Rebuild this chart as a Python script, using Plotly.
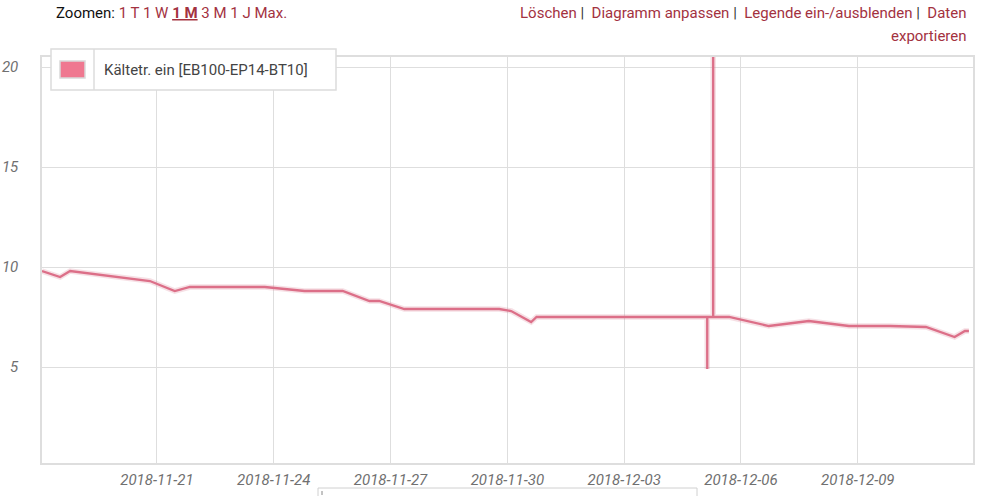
import plotly.graph_objects as go

# ---- data ----
series_name = "Kältetr. ein [EB100-EP14-BT10]"
times = [
    "2018-11-18 01:10", "2018-11-18 12:20", "2018-11-18 18:30", "2018-11-20 19:40",
    "2018-11-21 11:00", "2018-11-21 20:20", "2018-11-23 18:30", "2018-11-24 19:00",
    "2018-11-25 18:30", "2018-11-26 11:00", "2018-11-26 17:00", "2018-11-27 08:30",
    "2018-11-29 19:00", "2018-11-30 02:20", "2018-11-30 14:40", "2018-11-30 18:00",
    "2018-12-05 03:10", "2018-12-05 03:12", "2018-12-05 03:14", "2018-12-05 06:50",
    "2018-12-05 06:52", "2018-12-05 06:54", "2018-12-05 16:40", "2018-12-06 17:10",
    "2018-12-07 17:50", "2018-12-08 18:30", "2018-12-09 20:00", "2018-12-10 18:00",
    "2018-12-11 11:40", "2018-12-11 18:00", "2018-12-11 20:30",
]
values = [
    9.8, 9.5, 9.8, 9.3,
    8.8, 9.0, 9.0, 8.8,
    8.8, 8.3, 8.3, 7.9,
    7.9, 7.8, 7.25, 7.5,
    7.5, 4.9, 7.5, 7.5,
    23.0, 7.5, 7.5, 7.05,
    7.3, 7.05, 7.05, 7.0,
    6.5, 6.8, 6.8,
]
x_range = ["2018-11-18 01:10", "2018-12-11 23:00"]
y_range = [0.2, 20.5]
y_ticks = [5, 10, 15, 20]
x_tick0 = "2018-11-21"

zoom_label = "Zoomen:"
zoom_opts = ["1 T", "1 W", "1 M", "3 M", "1 J", "Max."]
menu_items = ["Löschen", "Diagramm anpassen", "Legende ein-/ausblenden", "Daten exportieren"]

# ---- layout (screen pixels) ----
W, H = 994, 496
L, R, T, B = 42, 973, 57, 463          # plot area in screen pixels
def px(x):
    return (x - L) / (R - L)
def py(y):
    return (B - y) / (B - T)

link = "#a3323f"
grid = "#dedede"

fig = go.Figure()
fig.add_trace(go.Scatter(x=times, y=values, mode="lines",
                         line=dict(color="rgba(216,112,138,0.22)", width=5.5),
                         hoverinfo="skip", showlegend=False))
fig.add_trace(go.Scatter(x=times, y=values, mode="lines", name=series_name,
                         line=dict(color="#dc6f88", width=2.3), showlegend=False))

shapes = []
# legend box
shapes.append(dict(type="rect", xref="paper", yref="paper", x0=px(51), x1=px(336), y0=py(90), y1=py(49),
                   fillcolor="white", line=dict(color="#dcdcdc", width=1.5), layer="above"))
shapes.append(dict(type="line", xref="paper", yref="paper", x0=px(94), x1=px(94), y0=py(90), y1=py(49),
                   line=dict(color="#dcdcdc", width=1.5), layer="above"))
shapes.append(dict(type="rect", xref="paper", yref="paper", x0=px(60), x1=px(85), y0=py(78), y1=py(61),
                   fillcolor="#ef7890", line=dict(color="#d9d9d9", width=1.5), layer="above"))
# partial box at bottom
shapes.append(dict(type="rect", xref="paper", yref="paper", x0=px(318), x1=px(697), y0=py(505), y1=py(488),
                   fillcolor="white", line=dict(color="#d0d0d0", width=1), layer="below"))
shapes.append(dict(type="line", xref="paper", yref="paper", x0=px(322), x1=px(322), y0=py(495), y1=py(491),
                   line=dict(color="#888", width=1), layer="below"))

zoom_html = (zoom_label + " <span style='color:%s'>%s %s <b><span style='text-decoration:underline'>%s</span></b> %s %s %s</span>"
             % (link, *zoom_opts))
sep = " <span style='color:#333'>|</span>  "
menu_line1 = sep.join("<span style='color:%s'>%s</span>" % (link, m) for m in menu_items[:3])
menu_line1 += sep + "<span style='color:%s'>%s</span>" % (link, menu_items[3].split(" ")[0])
menu_line2 = "<span style='color:%s'>%s</span>" % (link, menu_items[3].split(" ")[1])

annotations = [
    dict(text=zoom_html, xref="paper", yref="paper", x=px(54), y=py(13), xanchor="left", yanchor="middle",
         showarrow=False, font=dict(family="Roboto", size=15, color="#111")),
    dict(text=menu_line1, xref="paper", yref="paper", x=px(969), y=py(13), xanchor="right", yanchor="middle",
         showarrow=False, font=dict(family="Roboto", size=15, color=link)),
    dict(text=menu_line2, xref="paper", yref="paper", x=px(969), y=py(36), xanchor="right", yanchor="middle",
         showarrow=False, font=dict(family="Roboto", size=15, color=link)),
    dict(text=series_name, xref="paper", yref="paper", x=px(102), y=py(70), xanchor="left", yanchor="middle",
         showarrow=False, font=dict(family="Roboto", size=15, color="#444")),
]

fig.update_layout(
    width=W, height=H,
    margin=dict(l=L, r=W - R, t=T, b=H - B, autoexpand=False),
    paper_bgcolor="white", plot_bgcolor="white",
    showlegend=False,
    shapes=shapes, annotations=annotations,
    font=dict(family="Roboto"),
    xaxis=dict(type="date", range=x_range, tick0=x_tick0, dtick=3 * 86400000, automargin=False,
               tickformat="%Y-%m-%d", showgrid=True, gridcolor=grid, gridwidth=1.2,
               showline=True, linecolor=grid, linewidth=1.5, mirror=True, zeroline=False,
               ticks="", ticklabelstandoff=2,
               tickfont=dict(family="Roboto", size=15, color="#707070", style="italic")),
    yaxis=dict(range=y_range, tickvals=y_ticks, showgrid=True, gridcolor=grid, gridwidth=1.2,
               showline=True, linecolor=grid, linewidth=1.5, mirror=True, zeroline=False,
               ticks="", ticklabelstandoff=19, automargin=False,
               tickfont=dict(family="Roboto", size=15, color="#707070", style="italic")),
)

# remove the default page margin so the figure fills the window exactly
fig.write_html("out.html", config={"displayModeBar": False},
               post_script="document.body.style.margin='0px';")
